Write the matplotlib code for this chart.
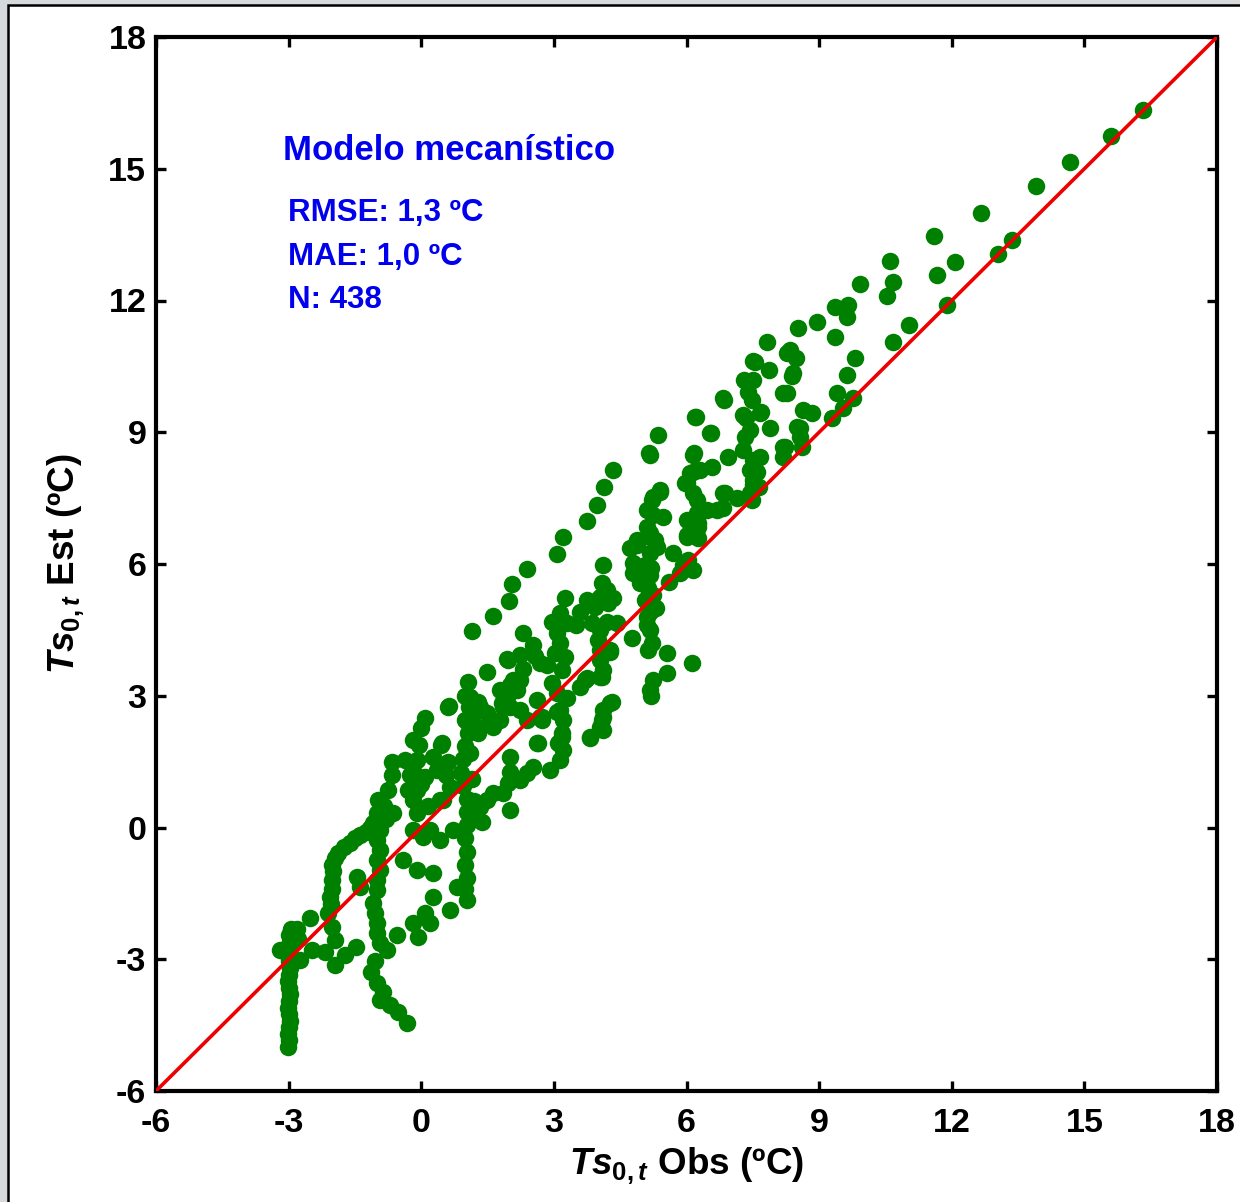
import matplotlib
matplotlib.use("Agg")
import matplotlib.pyplot as plt
from matplotlib.patches import Rectangle

plt.rcParams['font.family'] = ['Liberation Sans', 'DejaVu Sans']
plt.rcParams['mathtext.fontset'] = 'custom'
plt.rcParams['mathtext.it'] = 'Liberation Sans:italic:bold'
plt.rcParams['mathtext.rm'] = 'Liberation Sans:bold'
plt.rcParams['mathtext.bf'] = 'Liberation Sans:bold'

# ---------------- data (observed, estimated) ----------------
obs_A = [-3.02, -3.0, -3.02, -3.0, -2.98, -3.0, -3.02, -3.0, -2.98, -3.0, -3.02, -3.0, -2.98, -3.0,
         -3.02, -3.0, -2.98, -3.0, -2.95, -2.8, -2.78, -3.19, -2.74, -2.51,
         -2.47, -2.17, -1.95, -1.72, -1.47]
est_A = [-5.0, -4.85, -4.7, -4.55, -4.4, -4.25, -4.1, -3.95, -3.8, -3.65, -3.5, -3.35, -3.2, -3.05,
         -2.9, -2.75, -2.6, -2.45, -2.3, -2.3, -2.55, -2.79, -3.02, -2.06,
         -2.79, -2.83, -3.13, -2.90, -2.72]

obs_B = [-1.95, -2.01, -2.10, -2.05, -2.06, -2.03, -2.01, -2.0, -2.01, -1.95, -1.88, -1.75, -1.61,
         -1.5, -1.38, -1.45, -1.38, -1.25, -1.15]
est_B = [-2.56, -2.27, -1.95, -1.75, -1.58, -1.4, -1.2, -1.0, -0.85, -0.7, -0.58, -0.45, -0.35,
         -0.25, -0.17, -1.13, -1.36, -0.1, 0.0]

obs_C = [-0.66, -0.66, -0.75, -0.97, -1.0, -0.63, -1.09, -0.93, -1.0, -0.93, -1.0, -0.93, -1.0,
         -1.0, -1.09, -1.04, -1.0, -1.0, -0.93, -0.77, -1.05, -1.13, -1.0, -0.86, -0.93, -0.70,
         -0.52, -0.32, -0.85, -0.8]
est_C = [1.49, 1.2, 0.85, 0.63, 0.33, 0.33, 0.1, -0.06, -0.28, -0.51, -0.74, -0.97, -1.2,
         -1.43, -1.72, -1.95, -2.18, -2.4, -2.63, -2.79, -3.05, -3.3, -3.53, -3.75, -3.93, -4.04,
         -4.2, -4.45, 0.5, 0.2]

obs_D = [-0.54, -0.18, -0.07, 0.09, 0.27, 0.2, 0.66, 0.81, 1.04, -0.41, -0.09, 0.27, 0.72, 0.43,
         0.09, 0.0, -0.05, -0.09, -0.11, -0.09, -0.18, -0.09, -0.18, 0.05, 0.2,
         -0.36, -0.29, 0.45, 0.27, 0.61, 0.47, 0.43, 0.5, 0.66, 0.09, -0.18,
         -0.25, 0.0, 0.15, 0.35, 0.6, 0.55]
est_D = [-2.45, -2.17, -2.49, -1.95, -1.58, -2.17, -1.88, -1.35, -1.65, -0.74, -0.97, -1.03, -0.06, -0.28,
         2.49, 2.27, 1.88, 1.54, 1.2, 0.85, 0.63, 0.33, -0.06, -0.22, -0.06,
         1.54, 0.85, 1.88, 1.61, 2.74, 1.93, 0.63, 0.63, 0.92, 1.15, 1.99,
         1.2, 1.0, 0.5, 1.3, 1.5, 1.2]

obs_E = [1.06, 1.0, 1.08, 1.0, 1.06, 1.0, 0.95, 0.9, 0.95, 1.04, 1.04, 1.04, 1.0, 1.04, 1.0, 1.04, 1.0,
         0.63, 1.11, 1.33, 1.15, 1.27,
         1.18, 1.33, 1.38, 1.49, 1.63, 1.86, 1.97, 2.01, 2.01, 2.01, 2.24, 2.40, 2.53, 2.92, 2.62, 2.65,
         1.1, 1.15, 1.2]
est_E = [3.31, 3.0, 2.75, 2.45, 2.15, 1.85, 1.55, 1.25, 0.95, 0.65, 0.35, 0.05, -0.25, -0.55, -0.85, -1.15, -1.4,
         2.77, 2.97, 2.74, 2.52, 2.29,
         0.33, 0.47, 0.13, 0.63, 0.79, 0.79, 1.01, 1.27, 1.61, 0.40, 1.08, 1.25, 1.38, 1.31, 1.93, 1.93,
         1.7, 1.1, 0.6]

obs_F = [1.49, 1.29, 1.56, 1.61, 1.97, 1.79, 2.01, 2.24, 2.58, 2.62, 2.74, 2.69, 2.74, 2.40, 2.24, 1.86,
         1.83, 1.95, 2.17, 2.08, 1.63, 1.29, 1.49, 2.01, 1.79, 2.31, 2.53, 2.24, 1.95, 2.69, 2.31]
est_F = [3.54, 2.86, 2.38, 2.40, 3.81, 3.13, 3.25, 3.36, 3.90, 2.90, 2.52, 2.52, 2.45, 2.45, 2.67, 2.74,
         2.83, 2.97, 3.13, 3.36, 2.29, 2.15, 2.61, 2.74, 2.45, 4.43, 4.16, 3.93, 3.84, 3.75, 3.6]

obs_G = [3.26, 3.14, 2.96, 3.30, 3.08, 3.14, 3.03, 3.26, 2.85, 3.19, 2.96, 3.08, 3.30, 3.14, 3.21, 3.19,
         3.10, 3.08, 3.19, 3.21, 3.14, 3.60, 3.75, 4.09, 4.27, 4.32, 4.12, 4.09, 4.12, 3.82, 3.71]
est_G = [5.22, 4.88, 4.68, 4.66, 4.43, 4.2, 3.97, 3.89, 3.70, 3.59, 3.29, 3.06, 2.95, 2.67, 2.45, 2.15,
         1.93, 2.63, 2.06, 1.77, 1.54, 3.20, 3.40, 3.43, 4.00, 2.86, 2.67, 2.45, 2.22, 2.04, 3.36]

obs_H = [3.75, 3.94, 3.87, 4.05, 4.21, 4.09, 4.12, 4.23, 4.34, 4.43, 4.21, 4.05, 4.00, 4.05, 4.27, 4.05,
         4.12, 4.05, 4.27, 4.12, 4.05, 3.82, 4.77, 3.6, 3.5,
         4.34, 4.14, 3.98, 3.75, 3.21, 3.08, 2.40, 2.06, 1.99, 1.63, 1.15]
est_H = [5.18, 5.02, 4.66, 5.25, 5.41, 5.56, 5.98, 5.11, 5.22, 4.66, 4.68, 4.50, 4.27, 4.04, 4.04, 3.81,
         3.59, 3.43, 2.83, 2.52, 2.29, 2.06, 4.32, 4.9, 4.6,
         8.14, 7.75, 7.34, 6.98, 6.61, 6.23, 5.89, 5.54, 5.16, 4.82, 4.47]

obs_I = [4.73, 4.89, 4.80, 4.80, 4.95, 5.07, 5.11, 5.18, 5.22, 5.13, 5.11, 5.18, 5.13, 5.18, 5.07, 5.18,
         5.29, 5.11, 5.25, 5.22, 5.40, 5.11, 5.25, 5.18, 5.34, 5.47, 5.40, 5.70, 5.18, 5.36, 5.16, 5.18,
         4.89, 5.56, 5.56, 5.25, 5.18, 6.13, 5.2, 5.3, 5.25, 5.2, 5.6, 5.85]
est_I = [6.36, 6.55, 6.02, 5.80, 5.56, 5.18, 4.80, 4.50, 4.20, 4.04, 4.61, 4.91, 5.45, 5.75, 5.98, 6.25,
         6.55, 6.85, 7.12, 7.46, 7.69, 7.23, 7.53, 6.61, 6.39, 7.07, 7.64, 6.25, 8.48, 8.94, 8.52, 6.70,
         6.43, 3.97, 3.52, 3.36, 3.13, 3.74, 3.0, 5.0, 5.3, 5.9, 5.6, 5.8]

obs_J = [6.15, 6.02, 6.15, 6.24, 6.02, 6.02, 6.20, 6.54, 6.83, 6.17, 6.58, 6.94, 6.15, 5.97, 6.24, 6.24,
         6.27, 6.02, 6.27, 6.70, 6.88, 6.15, 5.93, 6.04, 6.27, 6.47, 6.83, 6.02, 6.31, 6.08, 6.56, 6.22]
est_J = [8.48, 7.84, 7.61, 7.07, 6.61, 6.02, 9.35, 8.98, 9.78, 8.52, 8.21, 8.44, 8.09, 7.84, 7.46, 7.16,
         6.85, 6.66, 6.59, 7.23, 7.61, 5.86, 5.98, 6.09, 6.93, 7.23, 7.27, 7.0, 8.14, 8.07, 8.98, 9.35]

obs_K = [7.28, 7.49, 7.67, 7.31, 7.55, 7.83, 7.44, 7.28, 7.51, 7.67, 7.44, 7.51, 7.44, 7.49, 7.15, 6.83,
         7.51, 7.87, 7.51, 7.38, 6.85, 7.35, 7.33, 7.69, 7.9, 7.65, 7.5, 7.6]
est_K = [9.39, 9.73, 9.44, 10.19, 10.60, 11.05, 9.05, 8.59, 8.37, 8.44, 8.14, 7.91, 7.61, 7.46, 7.50, 7.61,
         10.63, 10.42, 10.19, 9.92, 9.73, 9.32, 8.89, 9.45, 9.1, 7.75, 7.8, 8.1]

obs_L = [8.19, 8.62, 8.50, 8.64, 8.84, 8.19, 8.41, 8.28, 8.53, 8.96, 9.36, 9.30, 9.55, 9.77, 9.64, 9.82,
         9.41, 9.36, 9.64, 9.66, 8.57, 8.35, 8.48, 8.39, 8.28, 8.23, 8.57, 8.19, 9.93]
est_L = [8.66, 8.66, 9.12, 9.50, 9.44, 9.89, 10.35, 10.80, 11.37, 11.50, 11.17, 9.32, 9.55, 9.78, 10.30, 10.68,
         9.89, 11.86, 11.63, 11.90, 9.1, 10.87, 10.68, 10.29, 9.89, 8.66, 8.89, 8.43, 12.38]

obs_M = [10.60, 10.68, 10.54, 10.68, 11.04, 11.6, 12.08, 11.67, 11.9, 12.67, 13.37, 13.05, 13.9, 14.68,
         15.6, 16.33]
est_M = [12.90, 12.42, 12.10, 11.05, 11.44, 13.47, 12.88, 12.58, 11.9, 14.0, 13.38, 13.05, 14.6, 15.16,
         15.75, 16.33]

obs = obs_A + obs_B + obs_C + obs_D + obs_E + obs_F + obs_G + obs_H + obs_I + obs_J + obs_K + obs_L + obs_M
est = est_A + est_B + est_C + est_D + est_E + est_F + est_G + est_H + est_I + est_J + est_K + est_L + est_M

ticks = [-6, -3, 0, 3, 6, 9, 12, 15, 18]
lims = [-6, 18]
title_txt = "Modelo mecanístico"
stats_txt = ["RMSE: 1,3 ºC", "MAE: 1,0 ºC", "N: 438"]

# ---------------- figure ----------------
W, H = 1240, 1202
fig = plt.figure(figsize=(W / 100, H / 100), dpi=100, facecolor='#d6dadd')
fig.patches.append(Rectangle((8 / W, -0.01), 1.02, 1 - 5 / H + 0.01, transform=fig.transFigure,
                             facecolor='white', edgecolor='black', linewidth=1.8, zorder=-10))

ax = fig.add_axes([156 / W, 1 - 1091 / H, (1217 - 156) / W, (1091 - 37) / H])
ax.set_zorder(5)
ax.set_facecolor('white')

ax.plot(obs, est, 'o', color='#008000', markersize=12.6, markeredgewidth=0, zorder=2)
ax.plot(lims, lims, '-', color='#ee0000', linewidth=2.6, zorder=3)

ax.set_xlim(lims)
ax.set_ylim(lims)
ax.set_xticks(ticks)
ax.set_yticks(ticks)
ax.set_xticklabels([str(t) for t in ticks])
ax.set_yticklabels([str(t) for t in ticks])
ax.tick_params(direction='in', length=7, width=2.4, top=True, right=True, labelsize=24.5)
ax.tick_params(axis='x', pad=12)
ax.tick_params(axis='y', pad=7)
for lab in ax.get_xticklabels() + ax.get_yticklabels():
    lab.set_fontweight('bold')
for sp in ax.spines.values():
    sp.set_linewidth(3.0)

ax.set_xlabel(r'$\mathit{Ts}_{\mathit{0,t}}$ Obs (ºC)', fontsize=26.5, fontweight='bold', labelpad=5)
ax.set_ylabel(r'$\mathit{Ts}_{\mathit{0,t}}$ Est (ºC)', fontsize=26.5, fontweight='bold', labelpad=16)

ax.text((283 - 156) / 1061, (1091 - 150) / 1054, title_txt, transform=ax.transAxes,
        color='#0000ee', fontsize=25, fontweight='bold', va='center', ha='left')
for i, s in enumerate(stats_txt):
    yy = [213, 257, 300][i]
    ax.text((288 - 156) / 1061, (1091 - yy) / 1054, s, transform=ax.transAxes,
            color='#0000ee', fontsize=22.5, fontweight='bold', va='center', ha='left')

fig.savefig('out.png', dpi=100, facecolor=fig.get_facecolor())
